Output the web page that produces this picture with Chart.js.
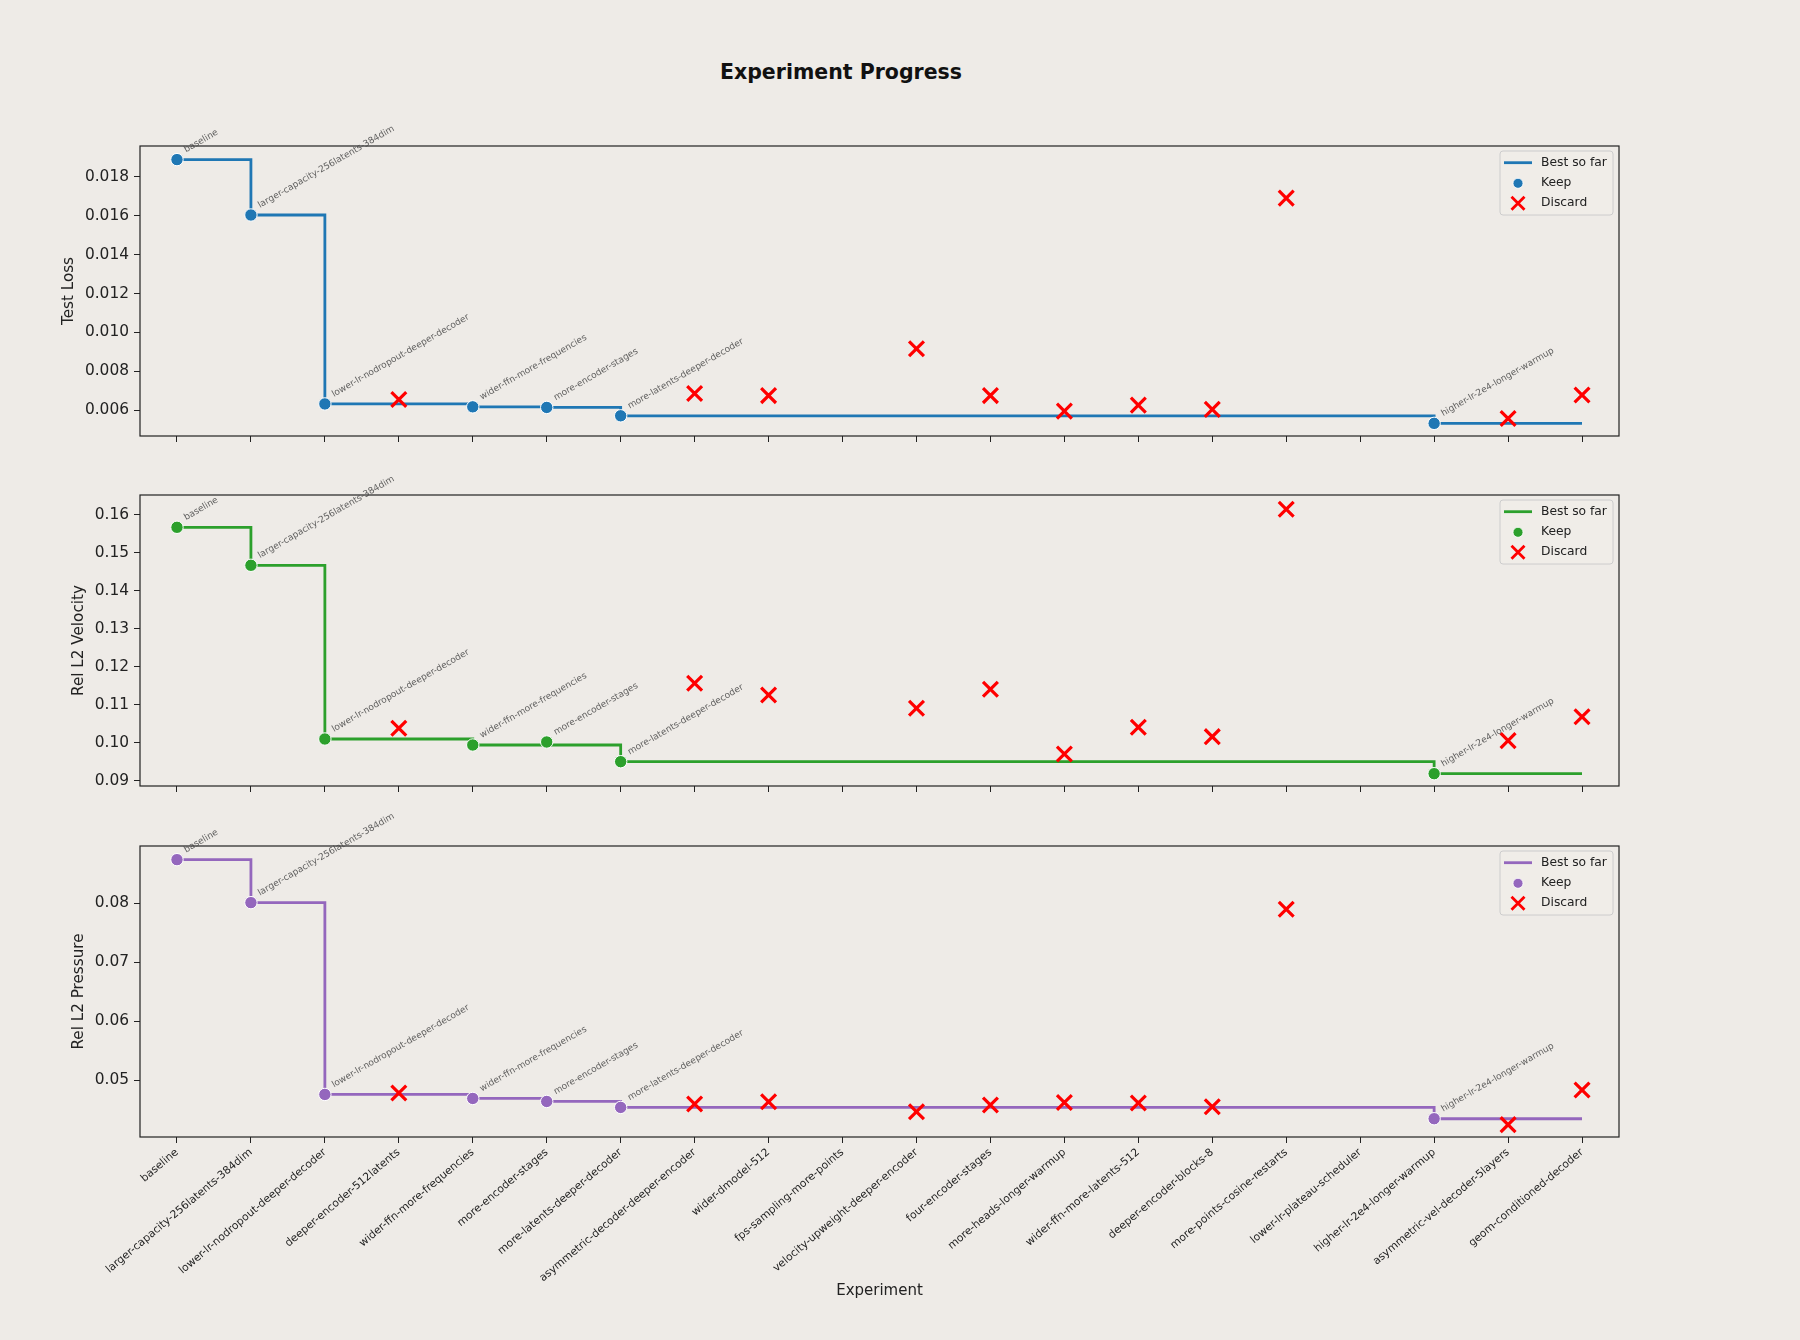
<!DOCTYPE html>
<html>
<head>
<meta charset="utf-8">
<script src="https://cdn.jsdelivr.net/npm/chart.js@4.4.1/dist/chart.umd.min.js"></script>
<style>
html, body { margin: 0; padding: 0; background: #eeebe7; }
#wrap { position: relative; width: 1800px; height: 1340px; overflow: hidden; }
canvas { position: absolute; left: 0; }
#title { position: absolute; left: 0; width: 1682px; top: 60px; text-align: center;
         font: bold 20.5px 'DejaVu Sans'; color: #111; }
</style>
</head>
<body>
<div id="wrap">
  <div id="title">Experiment Progress</div>
  <canvas id="c1" width="1800" height="470" style="top:0px"></canvas>
  <canvas id="c2" width="1800" height="370" style="top:450px"></canvas>
  <canvas id="c3" width="1800" height="550" style="top:790px"></canvas>
</div>
<script>
// --- data ---
const experiments = [
  'baseline', 'larger-capacity-256latents-384dim', 'lower-lr-nodropout-deeper-decoder',
  'deeper-encoder-512latents', 'wider-ffn-more-frequencies', 'more-encoder-stages',
  'more-latents-deeper-decoder', 'asymmetric-decoder-deeper-encoder', 'wider-dmodel-512',
  'fps-sampling-more-points', 'velocity-upweight-deeper-encoder', 'four-encoder-stages',
  'more-heads-longer-warmup', 'wider-ffn-more-latents-512', 'deeper-encoder-blocks-8',
  'more-points-cosine-restarts', 'lower-lr-plateau-scheduler', 'higher-lr-2e4-longer-warmup',
  'asymmetric-vel-decoder-5layers', 'geom-conditioned-decoder'
];

// Test Loss
const lossKeep    = [0.01889, 0.01604, 0.00632, null, 0.00617, 0.00614, 0.00571, null, null, null, null, null, null, null, null, null, null, 0.00532, null, null];
const lossDiscard = [null, null, null, 0.00655, null, null, null, 0.00686, 0.00675, null, 0.00916, 0.00675, 0.00595, 0.00626, 0.00604, 0.01691, null, null, 0.00557, 0.00678];
const lossBest    = [0.01889, 0.01604, 0.00632, 0.00632, 0.00617, 0.00614, 0.00571, 0.00571, 0.00571, 0.00571, 0.00571, 0.00571, 0.00571, 0.00571, 0.00571, 0.00571, 0.00571, 0.00532, 0.00532, 0.00532];
const lossTicks   = [0.006, 0.008, 0.010, 0.012, 0.014, 0.016, 0.018];
const lossTickLabels = ['0.006', '0.008', '0.010', '0.012', '0.014', '0.016', '0.018'];

// Rel L2 Velocity
const velKeep    = [0.15676, 0.14676, 0.10105, null, 0.09947, 0.10026, 0.09508, null, null, null, null, null, null, null, null, null, null, 0.09192, null, null];
const velDiscard = [null, null, null, 0.10386, null, null, null, 0.11571, 0.11263, null, 0.10913, 0.11413, 0.09711, 0.10413, 0.10166, 0.16150, null, null, 0.10061, 0.10692];
const velBest    = [0.15676, 0.14676, 0.10105, 0.10105, 0.09947, 0.09947, 0.09508, 0.09508, 0.09508, 0.09508, 0.09508, 0.09508, 0.09508, 0.09508, 0.09508, 0.09508, 0.09508, 0.09192, 0.09192, 0.09192];
const velTicks   = [0.09, 0.10, 0.11, 0.12, 0.13, 0.14, 0.15, 0.16];
const velTickLabels = ['0.09', '0.10', '0.11', '0.12', '0.13', '0.14', '0.15', '0.16'];

// Rel L2 Pressure
const presKeep    = [0.08739, 0.08010, 0.04756, null, 0.04688, 0.04637, 0.04536, null, null, null, null, null, null, null, null, null, null, 0.04344, null, null];
const presDiscard = [null, null, null, 0.04780, null, null, null, 0.04593, 0.04632, null, 0.04463, 0.04576, 0.04620, 0.04610, 0.04547, 0.07898, null, null, 0.04243, 0.04831];
const presBest    = [0.08739, 0.08010, 0.04756, 0.04756, 0.04688, 0.04637, 0.04536, 0.04536, 0.04536, 0.04536, 0.04536, 0.04536, 0.04536, 0.04536, 0.04536, 0.04536, 0.04536, 0.04344, 0.04344, 0.04344];
const presTicks   = [0.05, 0.06, 0.07, 0.08];
const presTickLabels = ['0.05', '0.06', '0.07', '0.08'];

const FONT = 'DejaVu Sans';
const INK = '#222222';

// --- 축 테두리, 범례, 주석 ---
const panelPlugin = {
  id: 'panel',
  beforeDatasetsDraw(chart) {
    const { ctx, chartArea: a } = chart;
    ctx.save();
    ctx.strokeStyle = INK; ctx.lineWidth = 1.2;
    ctx.strokeRect(a.left, a.top, a.right - a.left, a.bottom - a.top);
    ctx.restore();
  },
  afterDatasetsDraw(chart, args, opts) {
    const { ctx, chartArea: a } = chart;
    const xs = chart.scales.x, ys = chart.scales.y;
    ctx.save();
    // keep labels
    ctx.font = '9px ' + FONT; ctx.fillStyle = 'rgba(70,70,70,0.85)';
    ctx.textAlign = 'left'; ctx.textBaseline = 'alphabetic';
    opts.keep.forEach((v, i) => {
      if (v === null) return;
      const px = xs.getPixelForValue(i), py = ys.getPixelForValue(v);
      ctx.save();
      ctx.translate(px + 9, py - 7);
      ctx.rotate(-Math.PI / 6);
      ctx.fillText(experiments[i], 0, 0);
      ctx.restore();
    });
    // legend
    const R = a.right, T = a.top;
    ctx.beginPath();
    ctx.roundRect(R - 119, T + 5, 113, 64, 3);
    ctx.fillStyle = 'rgba(240,237,233,0.8)'; ctx.fill();
    ctx.strokeStyle = '#cccccc'; ctx.lineWidth = 1; ctx.stroke();
    ctx.strokeStyle = opts.color; ctx.lineWidth = 2.8;
    ctx.beginPath(); ctx.moveTo(R - 115, T + 16.7); ctx.lineTo(R - 87, T + 16.7); ctx.stroke();
    ctx.fillStyle = opts.color; ctx.strokeStyle = '#ffffff'; ctx.lineWidth = 0.8;
    ctx.beginPath(); ctx.arc(R - 101, T + 37.3, 5, 0, Math.PI * 2); ctx.fill(); ctx.stroke();
    ctx.strokeStyle = '#ff0000'; ctx.lineWidth = 2.8;
    ctx.beginPath();
    ctx.moveTo(R - 107.5, T + 50.8); ctx.lineTo(R - 94.5, T + 63.8);
    ctx.moveTo(R - 94.5, T + 50.8); ctx.lineTo(R - 107.5, T + 63.8);
    ctx.stroke();
    ctx.fillStyle = INK; ctx.font = '12.3px ' + FONT; ctx.textBaseline = 'middle';
    ctx.fillText('Best so far', R - 78, T + 16.7);
    ctx.fillText('Keep', R - 78, T + 37.3);
    ctx.fillText('Discard', R - 78, T + 57.3);
    ctx.restore();
  }
};

function makePanel(id, p) {
  return new Chart(document.getElementById(id), {
    type: 'line',
    data: {
      labels: experiments,
      datasets: [
        { label: 'Best so far', data: p.best, borderColor: p.color, borderWidth: 2.8,
          pointRadius: 0, stepped: 'before', fill: false, order: 3 },
        { label: 'Keep', data: p.keep, showLine: false, pointRadius: 6.2,
          pointBackgroundColor: p.color, pointBorderColor: '#ffffff', pointBorderWidth: 1, order: 2 },
        { label: 'Discard', data: p.discard, showLine: false, pointStyle: 'crossRot', pointRadius: 10.5,
          pointBorderColor: '#ff0000', pointBackgroundColor: '#ff0000', pointBorderWidth: 3.2, order: 1 }
      ]
    },
    options: {
      responsive: false, animation: false,
      layout: { padding: { top: p.padTop, right: 181, left: 0, bottom: 0 } },
      plugins: {
        legend: { display: false }, tooltip: { enabled: false },
        panel: { keep: p.keep, color: p.color }
      },
      scales: {
        x: {
          type: 'category', offset: true,
          grid: { display: true, drawOnChartArea: false, drawTicks: true, tickLength: 6, color: INK, lineWidth: 1 },
          border: { display: false },
          ticks: { display: p.showX, autoSkip: false, minRotation: 40, maxRotation: 40,
                   font: { family: FONT, size: 10.8 }, color: INK, padding: 3 },
          title: { display: p.showX, text: 'Experiment', color: INK,
                   font: { family: FONT, size: 15 }, padding: { top: 0, bottom: 40 } },
          afterFit: s => { s.height = p.xHeight; }
        },
        y: {
          type: 'linear', min: p.min, max: p.max,
          afterBuildTicks: s => { s.ticks = p.ticks.map(v => ({ value: v })); },
          grid: { display: true, drawOnChartArea: false, drawTicks: true, tickLength: 6, color: INK, lineWidth: 1 },
          border: { display: false },
          ticks: { font: { family: FONT, size: 15.4 }, color: INK, padding: 5,
                   callback: (v, i) => p.tickLabels[i] },
          title: { display: true, text: p.ylabel, color: INK,
                   font: { family: FONT, size: 15.2 }, padding: { top: p.yTitlePad, bottom: 0 } },
          afterFit: s => { s.width = 140; }
        }
      }
    },
    plugins: [panelPlugin]
  });
}

makePanel('c1', { keep: lossKeep, discard: lossDiscard, best: lossBest, ticks: lossTicks, tickLabels: lossTickLabels,
  color: '#1f77b4', min: 0.00467, max: 0.01959, ylabel: 'Test Loss', yTitlePad: 60, padTop: 146, xHeight: 34, showX: false });
makePanel('c2', { keep: velKeep, discard: velDiscard, best: velBest, ticks: velTicks, tickLabels: velTickLabels,
  color: '#2ca02c', min: 0.08868, max: 0.16526, ylabel: 'Rel L2 Velocity', yTitlePad: 70, padTop: 45, xHeight: 34, showX: false });
makePanel('c3', { keep: presKeep, discard: presDiscard, best: presBest, ticks: presTicks, tickLabels: presTickLabels,
  color: '#9467bd', min: 0.04034, max: 0.08971, ylabel: 'Rel L2 Pressure', yTitlePad: 70, padTop: 56, xHeight: 203, showX: true });
</script>
</body>
</html>
